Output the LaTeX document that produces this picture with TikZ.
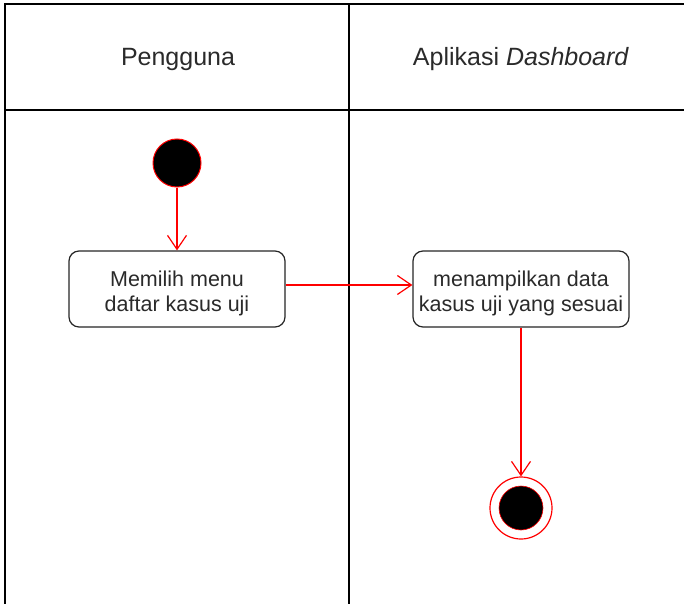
\documentclass[tikz,border=0pt]{standalone}
\usepackage{fontspec}
\setmainfont{Liberation Sans}
\usetikzlibrary{arrows.meta}
\definecolor{flowred}{HTML}{FF0000}
\definecolor{txt}{HTML}{2A2A2A}
\tikzset{
  x=1pt, y=-1pt,
  lane/.style={draw=black, line width=1.5pt},
  action/.style={draw=black!85, line width=1.2pt, rounded corners=10pt, fill=white,
    minimum width=216pt, minimum height=76pt},
  actiontext/.style={align=center, text=txt, inner sep=0pt,
    font=\fontsize{21.5}{25}\selectfont},
  header/.style={text=txt, font=\fontsize{25}{30}\selectfont},
  flow/.style={draw=flowred, line width=1.2pt,
    -{Straight Barb[length=14pt, width=19pt, line width=1.2pt]}},
  startdot/.style={circle, fill=black, draw=flowred, line width=1pt, minimum size=48pt, inner sep=0pt},
  endring/.style={circle, draw=flowred, line width=1.2pt, fill=white, minimum size=62pt, inner sep=0pt},
  enddot/.style={circle, fill=black, draw=flowred, line width=0.6pt, minimum size=44pt, inner sep=0pt}
}
\begin{document}
\begin{tikzpicture}
\useasboundingbox (0,0) rectangle (684,604);
% swimlane frame
\draw[lane] (684,4) -- (5,4) -- (5,604);
\draw[lane] (5,110) -- (684,110);
\draw[lane] (349,4) -- (349,604);
% lane titles
\node[header] (hUser) at (178,59) {Pengguna};
\node[header] (hApp) at (521,59) {Aplikasi \textit{Dashboard}};
% activity nodes
\node[startdot] (start) at (177,163) {};
\node[action] (pick) at (177,289) {};
\node[actiontext] (pickTxt) at (177,293) {Memilih menu\\daftar kasus uji};
\node[action] (show) at (521,289) {};
\node[actiontext] (showTxt) at (521,293) {menampilkan data\\kasus uji yang sesuai};
\node[endring] (endo) at (521,508) {};
\node[enddot] (endi) at (521,508) {};
% control flow
\draw[flow] (start) -- (pick);
\draw[flow] ([yshift=4pt]pick.east) -- ([yshift=4pt]show.west);
\draw[flow] (show) -- (endo);
\end{tikzpicture}
\end{document}
